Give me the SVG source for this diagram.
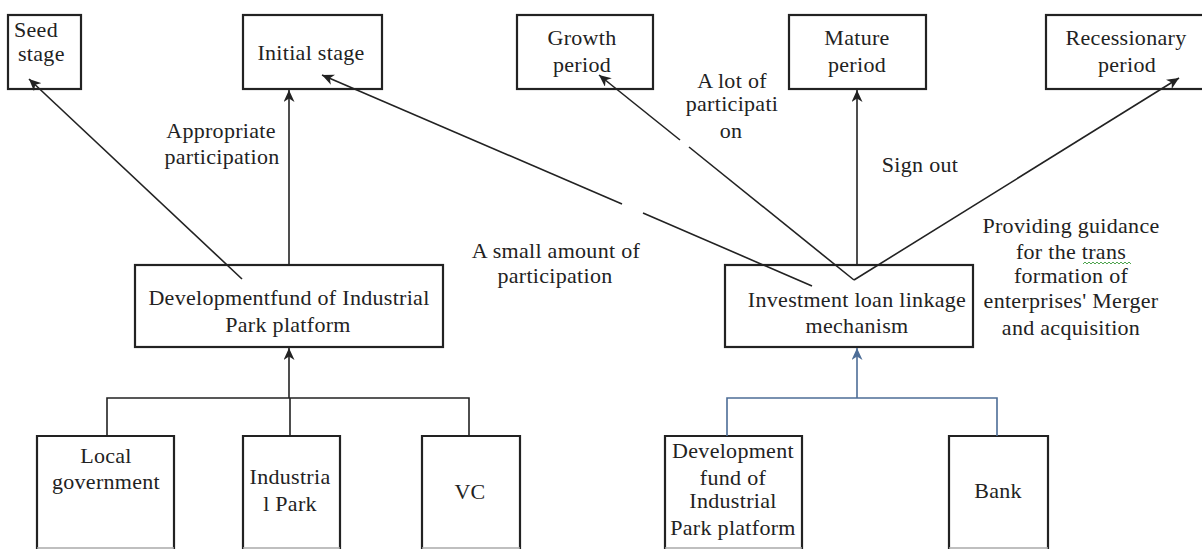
<svg xmlns="http://www.w3.org/2000/svg" width="1202" height="549" viewBox="0 0 1202 549" font-family="'Liberation Serif', 'DejaVu Serif', serif">
<style>
.box{fill:#fff;stroke:#222;stroke-width:2.2}
.side{fill:none;stroke:#222;stroke-width:2.2}
.edge{stroke:#aaa;stroke-width:1.5}
text{font-family:'Liberation Serif','DejaVu Serif',serif;font-size:22px;fill:#222;text-anchor:middle;letter-spacing:0.3px}
.st{text-anchor:start}
.ln{fill:none;stroke:#222;stroke-width:1.6}
.blue{fill:none;stroke:#4d6d97;stroke-width:1.6}
</style>
<defs>
<marker id="ah" markerWidth="13" markerHeight="11" refX="12" refY="5.5" orient="auto" markerUnits="userSpaceOnUse">
<path d="M0,0 L12,5.5 L0,11 L3.5,5.5 z" fill="#222"/>
</marker>
<marker id="ahb" markerWidth="13" markerHeight="11" refX="12" refY="5.5" orient="auto" markerUnits="userSpaceOnUse">
<path d="M0,0 L12,5.5 L0,11 L3.5,5.5 z" fill="#4d6d97"/>
</marker>
</defs>
<rect width="1202" height="549" fill="#fff"/>

<g id="seed">
<rect class="box" x="8" y="15" width="73" height="74"/>
<text class="st" x="14" y="37">Seed</text>
<text class="st" x="18" y="61">stage</text>
</g>
<g id="initial">
<rect class="box" x="243" y="15" width="139" height="74"/>
<text x="311" y="60">Initial stage</text>
</g>
<g id="growth">
<rect class="box" x="517" y="15" width="136" height="74"/>
<text x="582" y="45">Growth</text>
<text x="582" y="72">period</text>
</g>
<g id="mature">
<rect class="box" x="789" y="15" width="137" height="74"/>
<text x="857" y="45">Mature</text>
<text x="857" y="72">period</text>
</g>
<g id="recessionary">
<rect class="box" x="1046" y="15" width="170" height="74"/>
<text x="1126" y="45">Recessionary</text>
<text x="1127" y="72">period</text>
</g>
<g id="devfund">
<rect class="box" x="135" y="265" width="308" height="82"/>
<text x="289" y="305">Developmentfund of Industrial</text>
<text x="288" y="332">Park platform</text>
</g>
<g id="investment">
<rect class="box" x="725" y="265" width="248" height="82"/>
<text x="857" y="307">Investment loan linkage</text>
<text x="857" y="333">mechanism</text>
</g>
<g id="localgov">
<path class="side" d="M37,549 V436 H174 V549"/>
<line class="edge" x1="37" y1="548" x2="174" y2="548"/>
<text x="106" y="463">Local</text>
<text x="106" y="489">government</text>
</g>
<g id="industrialpark">
<path class="side" d="M243,549 V436 H340 V549"/>
<line class="edge" x1="243" y1="548" x2="340" y2="548"/>
<text x="290" y="484">Industria</text>
<text x="290" y="511">l Park</text>
</g>
<g id="vc">
<path class="side" d="M422,549 V436 H520 V549"/>
<line class="edge" x1="422" y1="548" x2="520" y2="548"/>
<text x="470" y="499">VC</text>
</g>
<g id="devfund2">
<path class="side" d="M665,549 V436 H802 V549"/>
<line class="edge" x1="665" y1="548" x2="802" y2="548"/>
<text x="733" y="458">Development</text>
<text x="733" y="485">fund of</text>
<text x="733" y="508">Industrial</text>
<text x="733" y="535">Park platform</text>
</g>
<g id="bank">
<path class="side" d="M949,549 V436 H1048 V549"/>
<line class="edge" x1="949" y1="548" x2="1048" y2="548"/>
<text x="998" y="498">Bank</text>
</g>

<g id="connectors">
<line class="ln" x1="242" y1="279" x2="29" y2="79" marker-end="url(#ah)"/>
<line class="ln" x1="289" y1="265" x2="289" y2="90" marker-end="url(#ah)"/>
<path class="ln" d="M107,436 V398 H469 V436 M290,436 V398"/>
<line class="ln" x1="289" y1="398" x2="289" y2="348" marker-end="url(#ah)"/>
<line class="ln" x1="812" y1="286" x2="643" y2="213"/>
<line class="ln" x1="622" y1="204" x2="322" y2="75" marker-end="url(#ah)"/>
<line class="ln" x1="854" y1="280" x2="689" y2="147"/>
<line class="ln" x1="680" y1="140" x2="599" y2="75" marker-end="url(#ah)"/>
<line class="ln" x1="857" y1="265" x2="857" y2="90" marker-end="url(#ah)"/>
<line class="ln" x1="854" y1="280" x2="1179" y2="78" marker-end="url(#ah)"/>
<path class="blue" d="M727,436 V398 H997 V436"/>
<line class="blue" x1="857" y1="398" x2="857" y2="348" marker-end="url(#ahb)"/>
</g>

<g id="labels">
<text x="221" y="138">Appropriate</text>
<text x="222" y="164">participation</text>
<text x="732" y="88">A lot of</text>
<text x="732" y="111">participati</text>
<text x="731" y="138">on</text>
<text x="920" y="172">Sign out</text>
<text x="556" y="258">A small amount of</text>
<text x="555" y="283">participation</text>
<text x="1071" y="233">Providing guidance</text>
<text x="1071" y="259">for the trans</text>
<path d="M1083,264 l2,-2 l2,2 l2,-2 l2,2 l2,-2 l2,2 l2,-2 l2,2 l2,-2 l2,2 l2,-2 l2,2 l2,-2 l2,2 l2,-2 l2,2 l2,-2 l2,2 l2,-2 l2,2 l2,-2 l2,2 l2,-2 l2,2" fill="none" stroke="#3a9a3a" stroke-width="0.9"/>
<text x="1071" y="283">formation of</text>
<text x="1071" y="308">enterprises' Merger</text>
<text x="1071" y="335">and acquisition</text>
</g>
</svg>
